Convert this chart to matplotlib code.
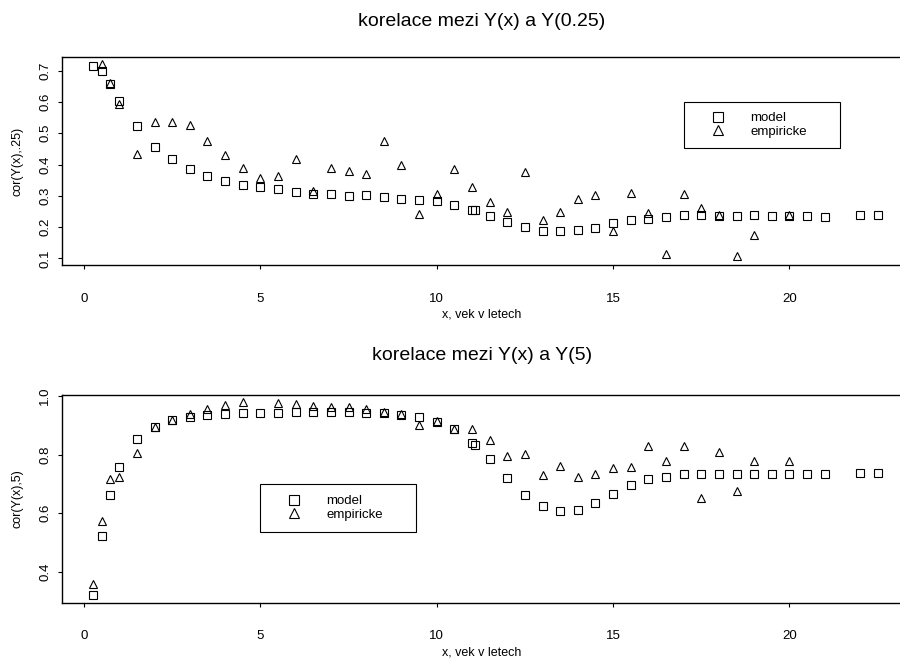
import numpy as np
import matplotlib
matplotlib.use("Agg")
import matplotlib.pyplot as plt
from matplotlib.patches import Rectangle

plt.rcParams["font.family"] = ["Liberation Sans", "DejaVu Sans"]

nan = np.nan

# age points (years)
ages = [0.25, 0.5, 0.75, 1, 1.5, 2, 2.5, 3, 3.5, 4, 4.5, 5, 5.5, 6, 6.5, 7,
        7.5, 8, 8.5, 9, 9.5, 10, 10.5, 11, 11.08, 11.5, 12, 12.5, 13, 13.5,
        14, 14.5, 15, 15.5, 16, 16.5, 17, 17.5, 18, 18.5, 19, 19.5, 20, 20.5,
        21, 22, 22.5]

# correlation with Y(0.25)
model_025 = [0.716, 0.700, 0.658, 0.603, 0.522, 0.457, 0.418, 0.386, 0.364,
             0.348, 0.336, 0.327, 0.321, 0.313, 0.306, 0.306, 0.298, 0.301,
             0.297, 0.291, 0.286, 0.284, 0.270, 0.253, 0.253, 0.236, 0.217,
             0.200, 0.188, 0.187, 0.191, 0.196, 0.213, 0.222, 0.227, 0.233,
             0.238, 0.240, 0.236, 0.234, 0.238, 0.235, 0.236, 0.234, 0.233,
             0.238, 0.237]
emp_025 = [nan, 0.720, 0.660, 0.593, 0.435, 0.537, 0.536, 0.527, 0.476,
           0.431, 0.389, 0.358, 0.363, 0.417, 0.314, 0.388, 0.378, 0.369,
           0.474, 0.397, 0.241, 0.305, 0.386, 0.329, nan, 0.280, 0.248,
           0.376, 0.222, 0.248, 0.290, 0.301, 0.187, 0.310, 0.244, 0.114,
           0.306, 0.261, 0.238, 0.108, 0.174, nan, 0.238, nan, nan,
           nan, nan]

# correlation with Y(5)
model_5 = [0.319, 0.522, 0.662, 0.759, 0.853, 0.895, 0.918, 0.928, 0.936,
           0.937, 0.942, 0.942, 0.943, 0.946, 0.946, 0.945, 0.946, 0.942,
           0.941, 0.934, 0.929, 0.911, 0.886, 0.841, 0.834, 0.785, 0.719,
           0.663, 0.624, 0.608, 0.612, 0.635, 0.666, 0.695, 0.717, 0.724,
           0.735, 0.735, 0.735, 0.735, 0.735, 0.735, 0.735, 0.735, 0.734,
           0.737, 0.736]
emp_5 = [0.357, 0.573, 0.718, 0.724, 0.804, 0.895, 0.918, 0.940, 0.956,
         0.969, 0.978, nan, 0.977, 0.974, 0.966, 0.962, 0.962, 0.954,
         0.945, 0.937, 0.900, 0.913, 0.888, 0.886, nan, 0.850, 0.795,
         0.801, 0.729, 0.762, 0.723, 0.735, 0.754, 0.756, 0.829, 0.777,
         0.829, 0.653, 0.808, 0.676, 0.777, nan, 0.777, nan, nan,
         nan, nan]

W, H = 900, 664
fig = plt.figure(figsize=(W / 100, H / 100), dpi=100)


def px_box(left, top, right, bottom):
    return [left / W, 1 - bottom / H, (right - left) / W, (bottom - top) / H]


def draw_panel(rect, model, emp, ylim, yticks, ytick_labels, ylabel, title,
               title_pad, legend_box):
    ax = fig.add_axes(rect)
    ax.plot(ages, model, linestyle="none", marker="s", markersize=5.2,
            markerfacecolor="none", markeredgecolor="black",
            markeredgewidth=0.8, label="model")
    ax.plot(ages, emp, linestyle="none", marker="^", markersize=5.2,
            markerfacecolor="none", markeredgecolor="black",
            markeredgewidth=0.8, label="empiricke")
    ax.set_xlim(-0.632, 23.19)
    ax.set_ylim(*ylim)
    ax.set_xticks([0, 5, 10, 15, 20])
    ax.set_yticks(yticks)
    ax.set_yticklabels(ytick_labels, rotation=90, va="center")
    ax.tick_params(axis="both", direction="out", length=3, width=0.8,
                   labelsize=9.5, colors="black")
    ax.tick_params(axis="x", pad=17)
    ax.tick_params(axis="y", pad=4.5)
    for sp in ax.spines.values():
        sp.set_linewidth(1.0)
    ax.set_xlabel("x, vek v letech", fontsize=9)
    ax.xaxis.set_label_coords(0.5, -0.21)
    ax.set_ylabel(ylabel, fontsize=9)
    ax.yaxis.set_label_coords(-0.046, 0.5)
    ax.set_title(title, fontsize=14, pad=title_pad)

    # legend frame drawn as a plain box, entries placed inside it
    left, top, right, bottom = legend_box
    fig.patches.append(Rectangle((left / W, 1 - bottom / H),
                                 (right - left) / W, (bottom - top) / H,
                                 transform=fig.transFigure, fill=False,
                                 edgecolor="black", linewidth=0.8))
    ax.legend(loc="center left",
              bbox_to_anchor=((left + 15) / W, 1 - (top + bottom) / 2 / H),
              bbox_transform=fig.transFigure, frameon=False, fontsize=9.5,
              borderpad=0, handlelength=1.82, handletextpad=1.55,
              labelspacing=0.12, markerscale=1.5)
    return ax


draw_panel(px_box(61.7, 57.3, 902, 265), model_025, emp_025,
           (0.0786, 0.743), [0.1, 0.2, 0.3, 0.4, 0.5, 0.6, 0.7],
           ["0.1", "0.2", "0.3", "0.4", "0.5", "0.6", "0.7"],
           "cor(Y(x),.25)", "korelace mezi Y(x) a Y(0.25)", 22.5,
           (684.3, 101.7, 840.3, 148.3))

draw_panel(px_box(61.7, 395.3, 902, 602.7), model_5, emp_5,
           (0.294, 1.0024), [0.4, 0.6, 0.8, 1.0],
           ["0.4", "0.6", "0.8", "1.0"],
           "cor(Y(x),5)", "korelace mezi Y(x) a Y(5)", 25.5,
           (260.3, 484.3, 416.3, 531.7))

fig.savefig("out.png", dpi=100)
